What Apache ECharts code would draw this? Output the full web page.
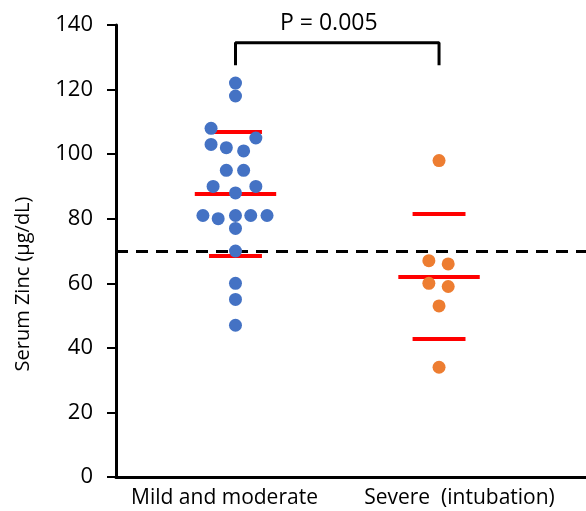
<!DOCTYPE html>
<html>
<head>
<meta charset="utf-8">
<script src="https://cdn.jsdelivr.net/npm/echarts@6/dist/echarts.min.js"></script>
<style>
html,body{margin:0;padding:0;background:#fff;}
#chart{width:586px;height:511px;}
</style>
</head>
<body>
<div id="chart"></div>
<script>
// groups
var categories = ['Mild and moderate', 'Severe  (intubation)'];
var groupPos = [1, 2];
// serum zinc values and horizontal spread (in group widths)
var mildValues = [122, 118, 108, 103, 102, 101, 105, 95, 95, 90, 88, 90, 81, 80, 81, 81, 81, 77, 70, 60, 55, 47];
var mildJitter = [0, 0, -0.12, -0.12, -0.045, 0.04, 0.1, -0.045, 0.04, -0.11, 0, 0.1, -0.16, -0.085, 0, 0.075, 0.155, 0, 0, 0, 0, 0];
var severeValues = [98, 67, 66, 60, 59, 53, 34];
var severeJitter = [0, -0.05, 0.045, -0.05, 0.045, 0, 0];
// mean and SD
var groupMeans = [87.7, 62.1];
var groupSD = [19.2, 19.4];
var refLevel = 70;
var bracketY = [127.5, 134.5];
var pText = 'P = 0.005';
var yTicks = {min: 0, max: 140, interval: 20};

var font = 'Open Sans';

var chart = echarts.init(document.getElementById('chart'));

function pts(vals, jit, gx){
	var out = [];
	for (var i = 0; i < vals.length; i++){
		out.push([gx + jit[i], vals[i]]);
	}
	return out;
}

var barLines = [];
for (var g = 0; g < groupPos.length; g++){
	var x = groupPos[g], m = groupMeans[g], s = groupSD[g];
	barLines.push({coords: [[x - 0.2, m], [x + 0.2, m]]});
	barLines.push({coords: [[x - 0.13, m + s], [x + 0.13, m + s]]});
	barLines.push({coords: [[x - 0.13, m - s], [x + 0.13, m - s]]});
}

var option = {
	animation: false,
	title: {
		text: pText,
		left: 275,
		top: 7,
		textStyle: {fontFamily: font, fontSize: 23, fontWeight: 'normal', color: '#000'}
	},
	grid: {left: 116, right: 0, top: 25, bottom: 34},
	xAxis: [
		{
			type: 'value',
			min: 0.413,
			max: 2.722,
			axisLine: {show: true, lineStyle: {color: '#000', width: 3}},
			axisTick: {show: false},
			axisLabel: {show: false},
			splitLine: {show: false}
		},
		{
			type: 'category',
			data: categories,
			position: 'bottom',
			axisLine: {show: false},
			axisTick: {show: false},
			axisLabel: {
				interval: 0,
				hideOverlap: false,
				margin: 11,
				padding: [0, 18, 0, 0],
				fontFamily: font,
				fontSize: 21,
				color: '#000'
			}
		}
	],
	yAxis: {
		type: 'value',
		min: yTicks.min,
		max: yTicks.max,
		interval: yTicks.interval,
		name: 'Serum Zinc (μg/dL)',
		nameLocation: 'middle',
		nameGap: 83,
		nameTextStyle: {fontFamily: font, fontSize: 20, color: '#000', padding: [0, 66, 0, 0]},
		axisLine: {show: true, lineStyle: {color: '#000', width: 3}},
		axisTick: {show: true, length: 9, lineStyle: {color: '#000', width: 2}},
		axisLabel: {margin: 23, fontFamily: font, fontSize: 22, color: '#000'},
		splitLine: {show: false}
	},
	series: [
		{
			type: 'line',
			data: [[groupPos[0], bracketY[0]], [groupPos[0], bracketY[1]], [groupPos[1], bracketY[1]], [groupPos[1], bracketY[0]]],
			symbol: 'none',
			lineStyle: {color: '#000', width: 3},
			z: 2,
			markLine: {
				silent: true,
				symbol: 'none',
				label: {show: false},
				lineStyle: {color: '#000', width: 3, type: [12, 8]},
				data: [{yAxis: refLevel}]
			}
		},
		{
			type: 'lines',
			coordinateSystem: 'cartesian2d',
			data: barLines,
			lineStyle: {color: '#ff0000', width: 4, opacity: 1},
			z: 3
		},
		{
			name: categories[0],
			type: 'scatter',
			data: pts(mildValues, mildJitter, groupPos[0]),
			symbolSize: 13,
			itemStyle: {color: '#4472c4', opacity: 1},
			z: 5
		},
		{
			name: categories[1],
			type: 'scatter',
			data: pts(severeValues, severeJitter, groupPos[1]),
			symbolSize: 13,
			itemStyle: {color: '#ed7d31', opacity: 1},
			z: 5
		}
	]
};
chart.setOption(option);
</script>
</body>
</html>
